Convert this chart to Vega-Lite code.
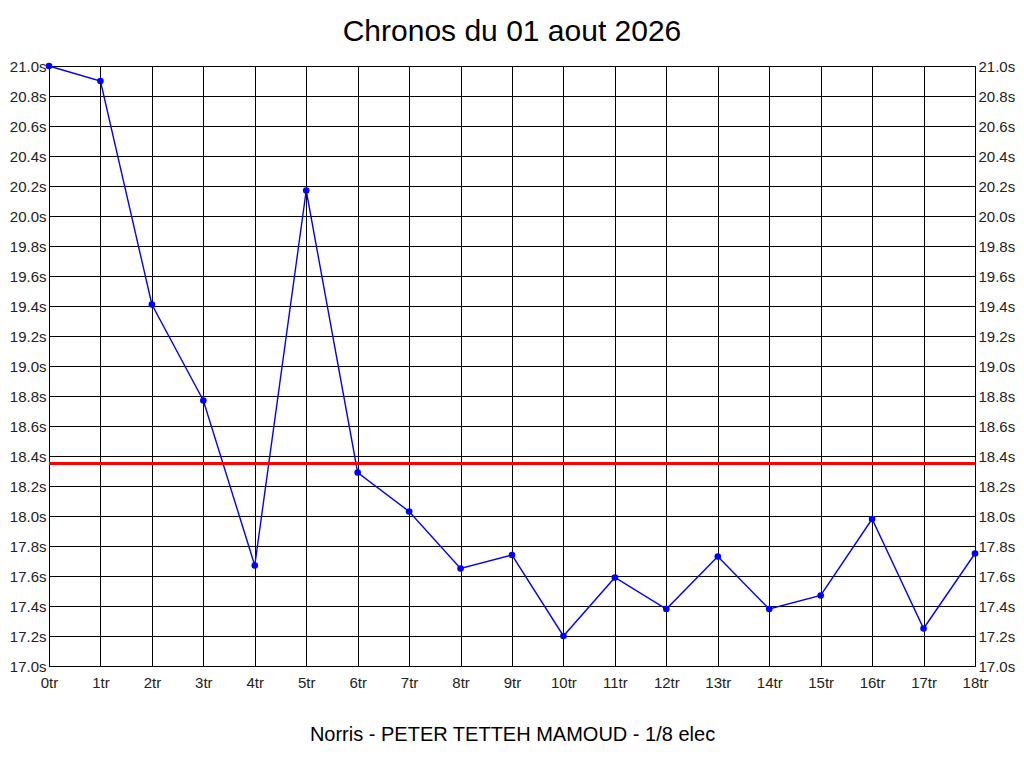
{
  "$schema": "https://vega.github.io/schema/vega-lite/v6.json",
  "width": 926,
  "height": 600,
  "autosize": "none",
  "padding": {"left": 49, "top": 66, "right": 49, "bottom": 102},
  "background": "white",
  "title": {
    "text": "Chronos du 01 aout 2026",
    "font": "Liberation Sans",
    "fontSize": 30,
    "fontWeight": "normal",
    "color": "black",
    "anchor": "middle",
    "offset": 12
  },
  "datasets": {
    "laps": [
      {"tour": 0, "temps": 21.0},
      {"tour": 1, "temps": 20.9},
      {"tour": 2, "temps": 19.41},
      {"tour": 3, "temps": 18.77},
      {"tour": 4, "temps": 17.67},
      {"tour": 5, "temps": 20.17},
      {"tour": 6, "temps": 18.29},
      {"tour": 7, "temps": 18.03},
      {"tour": 8, "temps": 17.65},
      {"tour": 9, "temps": 17.74},
      {"tour": 10, "temps": 17.2},
      {"tour": 11, "temps": 17.59},
      {"tour": 12, "temps": 17.38},
      {"tour": 13, "temps": 17.73},
      {"tour": 14, "temps": 17.38},
      {"tour": 15, "temps": 17.47},
      {"tour": 16, "temps": 17.98},
      {"tour": 17, "temps": 17.25},
      {"tour": 18, "temps": 17.75}
    ],
    "ref": [{"temps": 18.35}]
  },
  "layer": [
    {
      "data": {"name": "laps"},
      "mark": {
        "type": "line",
        "color": "blue",
        "strokeWidth": 1.4,
        "point": {"filled": true, "color": "blue", "size": 44, "opacity": 1}
      },
      "encoding": {
        "x": {
          "field": "tour",
          "type": "quantitative",
          "scale": {"domain": [0, 18], "nice": false, "zero": false},
          "axis": {
            "values": [0, 1, 2, 3, 4, 5, 6, 7, 8, 9, 10, 11, 12, 13, 14, 15, 16, 17, 18],
            "labelExpr": "datum.value + 'tr'",
            "title": "Norris - PETER TETTEH MAMOUD - 1/8 elec",
            "titleFont": "Liberation Sans",
            "titleFontSize": 20,
            "titleFontWeight": "normal",
            "titleColor": "black",
            "titlePadding": 34,
            "labelPadding": 9,
            "labelFlush": false,
            "labelOverlap": false
          }
        },
        "y": {
          "field": "temps",
          "type": "quantitative",
          "scale": {"domain": [17, 21], "nice": false, "zero": false},
          "axis": {
            "orient": "left",
            "values": [17.0, 17.2, 17.4, 17.6, 17.8, 18.0, 18.2, 18.4, 18.6, 18.8, 19.0, 19.2, 19.4, 19.6, 19.8, 20.0, 20.2, 20.4, 20.6, 20.8, 21.0],
            "labelExpr": "format(datum.value, '.1f') + 's'",
            "title": null,
            "labelPadding": 3,
            "labelOverlap": false
          }
        }
      }
    },
    {
      "data": {"name": "ref"},
      "mark": {"type": "rule", "color": "red", "strokeWidth": 3},
      "encoding": {
        "y": {
          "field": "temps",
          "type": "quantitative",
          "axis": {
            "orient": "right",
            "values": [17.0, 17.2, 17.4, 17.6, 17.8, 18.0, 18.2, 18.4, 18.6, 18.8, 19.0, 19.2, 19.4, 19.6, 19.8, 20.0, 20.2, 20.4, 20.6, 20.8, 21.0],
            "labelExpr": "format(datum.value, '.1f') + 's'",
            "title": null,
            "grid": false,
            "labelPadding": 3,
            "labelOverlap": false
          }
        }
      }
    }
  ],
  "resolve": {"axis": {"y": "independent"}},
  "config": {
    "view": {"stroke": "black", "strokeWidth": 1},
    "axis": {
      "ticks": false,
      "tickSize": 0,
      "domain": false,
      "grid": true,
      "gridColor": "black",
      "gridOpacity": 1,
      "gridWidth": 1,
      "labelFont": "Liberation Sans",
      "labelFontSize": 15,
      "labelColor": "#222"
    }
  }
}
